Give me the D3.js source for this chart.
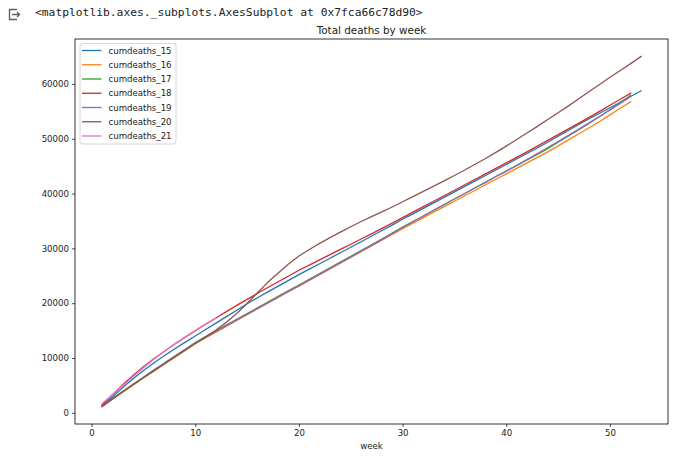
<!DOCTYPE html>
<html><head><meta charset="utf-8">
<script src="https://cdn.jsdelivr.net/npm/d3@7"></script>
<style>body{margin:0;background:#fff}svg{display:block}</style>
</head><body><svg id="c" width="680" height="458"></svg>
<script>
const headerText = "<matplotlib.axes._subplots.AxesSubplot at 0x7fca66c78d90>";
const titleText = "Total deaths by week";
const xLabel = "week";
const seriesNames = ["cumdeaths_15","cumdeaths_16","cumdeaths_17","cumdeaths_18","cumdeaths_19","cumdeaths_20","cumdeaths_21"];
const colors = ["#1f77b4","#ff7f0e","#2ca02c","#d62728","#9467bd","#8c564b","#e377c2"];

const cumdeaths_15 = [1300,2900,4600,6200,7700,9100,10400,11650,12850,14000,
  15200,16350,17550,18700,19900,21000,22050,23100,24150,25200,
  26200,27200,28200,29200,30200,31200,32200,33250,34250,35300,
  36300,37300,38300,39300,40300,41300,42300,43300,44300,45300,
  46300,47300,48300,49350,50450,51500,52600,53650,54650,55650,56650,57700,58750];
const cumdeaths_16 = [1150,2450,3750,5050,6350,7600,8850,10100,11350,12600,
  13650,14700,15750,16850,17900,18950,20000,21050,22100,23100,
  24150,25200,26250,27300,28350,29400,30450,31500,32550,33600,
  34600,35600,36600,37600,38600,39600,40600,41600,42600,43600,
  44600,45600,46600,47600,48700,49800,50900,52000,53150,54350,55550,56750];
const cumdeaths_17 = [1200,2550,3900,5200,6500,7800,9050,10300,11550,12800,
  13900,14950,16000,17050,18100,19150,20200,21250,22300,23300,
  24350,25400,26450,27500,28550,29600,30650,31700,32800,33900,
  34900,35900,36950,37950,39000,40000,41050,42050,43100,44100,
  45100,46150,47150,48200,49350,50500,51650,52850,54050,55300,56600,57900];
const cumdeaths_18 = [1400,3300,5100,6800,8400,9850,11200,12500,13750,14950,
  16150,17300,18450,19600,20700,21800,22850,23900,24950,26000,
  26950,27900,28850,29800,30750,31700,32650,33650,34600,35600,
  36600,37600,38600,39600,40600,41600,42600,43600,44600,45600,
  46600,47600,48650,49700,50750,51800,52850,53900,55000,56100,57200,58300];
const cumdeaths_19 = [1150,2500,3850,5150,6450,7750,9000,10250,11500,12700,
  13800,14850,15900,16950,18000,19050,20100,21150,22200,23200,
  24250,25300,26350,27400,28450,29500,30550,31600,32700,33800,
  34850,35900,36950,38000,39000,40000,41050,42050,43100,44100,
  45150,46200,47300,48400,49500,50600,51750,52900,54050,55250,56450,57700];
const cumdeaths_20 = [1200,2550,3850,5150,6400,7650,8900,10150,11400,12650,
  13850,15100,16500,18100,19950,21900,23800,25500,27150,28600,
  29800,30900,31950,32950,33950,34900,35800,36650,37550,38500,
  39450,40400,41350,42300,43300,44300,45350,46400,47500,48650,
  49850,51050,52250,53500,54750,56000,57300,58600,59900,61200,62450,63700,65000];
const cumdeaths_21 = [1650,3300,4950,6600,8200,9750,11200,12550,13800,15000,16200,17250];

const xTicks = [0,10,20,30,40,50];
const yTicks = [0,10000,20000,30000,40000,50000,60000];

const seriesValues = [cumdeaths_15,cumdeaths_16,cumdeaths_17,cumdeaths_18,cumdeaths_19,cumdeaths_20,cumdeaths_21];
const series = seriesNames.map((n,i)=>({name:n,color:colors[i],values:seriesValues[i].map((v,j)=>({week:j+1,v}))}));

const svg = d3.select("#c");
const L=75, R=668, T=39, B=424;
const font = "'DejaVu Sans', sans-serif";

// header
svg.append("path").attr("d","M17,9.5 H9.5 V19.5 H17 M12,14.5 H19.5 M17,12 L19.5,14.5 L17,17")
  .attr("fill","none").attr("stroke","#616161").attr("stroke-width",1.4);
svg.append("text").attr("x",35).attr("y",16).attr("font-family","'DejaVu Sans Mono', monospace")
  .attr("font-size","11.3px").attr("fill","#212121").text(headerText);

const allPts = series.flatMap(s=>s.values);
const xe = d3.extent(allPts,d=>d.week), ye = d3.extent(allPts,d=>d.v);
const xp=(xe[1]-xe[0])*0.05, yp=(ye[1]-ye[0])*0.05;
const x = d3.scaleLinear().domain([xe[0]-xp,xe[1]+xp]).range([L,R]);
const y = d3.scaleLinear().domain([ye[0]-yp,ye[1]+yp]).range([B,T]);

const line = d3.line().x(d=>x(d.week)).y(d=>y(d.v));
const g = svg.append("g");
series.forEach(s=>{
  g.append("path").datum(s.values).attr("d",line).attr("fill","none")
   .attr("stroke",s.color).attr("stroke-width",1.3).attr("stroke-linejoin","round").attr("stroke-linecap","square");
});

// axes
const xa = svg.append("g").attr("transform",`translate(0,${B})`)
  .call(d3.axisBottom(x).tickValues(xTicks).tickSize(3).tickPadding(3).tickFormat(d3.format("d")));
const ya = svg.append("g").attr("transform",`translate(${L},0)`)
  .call(d3.axisLeft(y).tickValues(yTicks).tickSize(3).tickPadding(3).tickFormat(d3.format("d")));
[xa,ya].forEach(a=>{
  a.select(".domain").remove();
  a.selectAll("line").attr("stroke","#000").attr("stroke-width",0.7);
  a.selectAll("text").attr("font-family",font).attr("font-size","8.6px").attr("fill","#222");
});
svg.append("rect").attr("x",L).attr("y",T).attr("width",R-L).attr("height",B-T)
  .attr("fill","none").attr("stroke","#000").attr("stroke-width",0.8);

svg.append("text").attr("x",(L+R)/2).attr("y",34).attr("text-anchor","middle")
  .attr("font-family",font).attr("font-size","10.4px").attr("fill","#222").text(titleText);
svg.append("text").attr("x",(L+R)/2).attr("y",449).attr("text-anchor","middle")
  .attr("font-family",font).attr("font-size","8.6px").attr("fill","#222").text(xLabel);

// legend
const lg = svg.append("g");
lg.append("rect").attr("x",80).attr("y",43.5).attr("width",96).attr("height",100.5).attr("rx",2.5)
  .attr("fill","#fff").attr("fill-opacity",0.8).attr("stroke","#ccc").attr("stroke-width",0.8);
series.forEach((s,i)=>{
  const yy = 50.5 + i*14.25;
  lg.append("line").attr("x1",82).attr("x2",101.5).attr("y1",yy).attr("y2",yy)
    .attr("stroke",s.color).attr("stroke-width",1.3);
  lg.append("text").attr("x",108.5).attr("y",yy).attr("dy","0.35em").attr("font-family",font)
    .attr("font-size","8.6px").attr("fill","#222").text(s.name);
});
</script></body></html>
